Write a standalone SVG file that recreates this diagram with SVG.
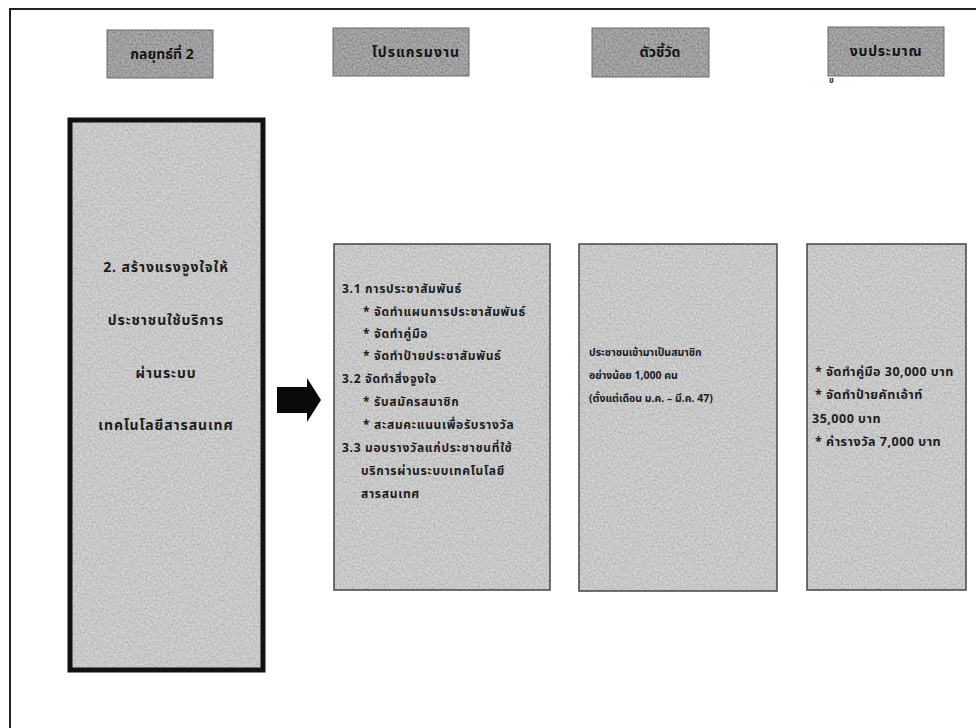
<svg xmlns="http://www.w3.org/2000/svg" width="976" height="728" viewBox="0 0 976 728">
  <defs>
    <!-- soft grey speckle laid over panel fills -->
    <filter id="grain" x="0" y="0" width="100%" height="100%">
      <feTurbulence type="fractalNoise" baseFrequency="0.5" numOctaves="2" seed="7" result="n"/>
      <feColorMatrix in="n" type="matrix" values="1.3 0 0 0 -0.1  1.3 0 0 0 -0.1  1.3 0 0 0 -0.1  0 0 0 0 0.3" result="g"/>
      <feComposite in="g" in2="SourceGraphic" operator="in" result="gm"/>
      <feMerge><feMergeNode in="SourceGraphic"/><feMergeNode in="gm"/></feMerge>
    </filter>
    <style>
      .hdr-f { fill: #8a8a8a; filter: url(#grain); }
      .hdr-b { fill: none; stroke: #6a6a6a; stroke-width: 1; }
      .hdr-t { font-family: "Noto Sans Thai", "Loma", "Garuda", "DejaVu Sans", sans-serif; font-size: 14px; font-weight: bold; fill: #151515; text-anchor: middle; }
      .pan-f { fill: #c9c9c9; filter: url(#grain); }
      .pan-b { fill: none; stroke: #444; stroke-width: 1.5; }
      .main-b { fill: none; stroke: #111; stroke-width: 5; }
      .th { font-family: "Noto Sans Thai", "Loma", "Garuda", "DejaVu Sans", sans-serif; font-weight: bold; fill: #1c1c1c; }
      .t2 { font-size: 12px; letter-spacing: 0.7px; }
      .t3 { font-size: 10.5px; }
      .t4 { font-size: 12.5px; letter-spacing: 0.5px; }
      .tm { font-size: 14px; letter-spacing: 0.9px; text-anchor: middle; }
    </style>
  </defs>

  <rect width="976" height="728" fill="#ffffff"/>

  <!-- page frame -->
  <path d="M10 728 V9 H976" fill="none" stroke="#222" stroke-width="2"/>

  <!-- column headers -->
  <g id="hdr-strategy">
    <rect class="hdr-f" x="107" y="30" width="106" height="48"/>
    <rect class="hdr-b" x="107" y="30" width="106" height="48"/>
    <text class="hdr-t" x="162" y="59">กลยุทธ์ที่ 2</text>
  </g>
  <g id="hdr-program">
    <rect class="hdr-f" x="333" y="28" width="136" height="48"/>
    <rect class="hdr-b" x="333" y="28" width="136" height="48"/>
    <text class="hdr-t" x="416" y="57" letter-spacing="1">โปรแกรมงาน</text>
  </g>
  <g id="hdr-indicator">
    <rect class="hdr-f" x="592" y="28" width="117" height="49"/>
    <rect class="hdr-b" x="592" y="28" width="117" height="49"/>
    <text class="hdr-t" x="660" y="57">ตัวชี้วัด</text>
  </g>
  <g id="hdr-budget">
    <rect class="hdr-f" x="828" y="27" width="116" height="49"/>
    <rect class="hdr-b" x="828" y="27" width="116" height="49"/>
    <text class="hdr-t" x="886" y="56" letter-spacing="0.8">งบประมาณ</text>
    <text class="th" x="829" y="83" font-size="8">ข</text>
  </g>

  <!-- strategy box -->
  <g id="strategy">
    <rect class="pan-f" x="70" y="120" width="193" height="550"/>
    <rect class="main-b" x="70" y="120" width="193" height="550"/>
    <text class="th tm" x="166" y="272">2. สร้างแรงจูงใจให้</text>
    <text class="th tm" x="166" y="325">ประชาชนใช้บริการ</text>
    <text class="th tm" x="166" y="378">ผ่านระบบ</text>
    <text class="th tm" x="166" y="430">เทคโนโลยีสารสนเทศ</text>
  </g>

  <!-- connector -->
  <g id="connectors">
    <path d="M277 387 H307 V378 L321 400 L307 422 V413 H277 Z" fill="#0a0a0a"/>
  </g>

  <!-- program box -->
  <g id="program">
    <rect class="pan-f" x="334" y="244" width="216" height="346"/>
    <rect class="pan-b" x="334" y="244" width="216" height="346"/>
    <text class="th t2" x="342" y="293">3.1 การประชาสัมพันธ์</text>
    <text class="th t2" x="363" y="316">* จัดทำแผนการประชาสัมพันธ์</text>
    <text class="th t2" x="363" y="338">* จัดทำคู่มือ</text>
    <text class="th t2" x="363" y="360">* จัดทำป้ายประชาสัมพันธ์</text>
    <text class="th t2" x="342" y="383">3.2 จัดทำสิ่งจูงใจ</text>
    <text class="th t2" x="363" y="406">* รับสมัครสมาชิก</text>
    <text class="th t2" x="363" y="429">* สะสมคะแนนเพื่อรับรางวัล</text>
    <text class="th t2" x="342" y="452">3.3 มอบรางวัลแก่ประชาชนที่ใช้</text>
    <text class="th t2" x="361" y="475">บริการผ่านระบบเทคโนโลยี</text>
    <text class="th t2" x="361" y="498">สารสนเทศ</text>
  </g>

  <!-- indicator box -->
  <g id="indicator">
    <rect class="pan-f" x="579" y="244" width="198" height="347"/>
    <rect class="pan-b" x="579" y="244" width="198" height="347"/>
    <text class="th t3" x="589" y="356">ประชาชนเข้ามาเป็นสมาชิก</text>
    <text class="th t3" x="589" y="379">อย่างน้อย 1,000 คน</text>
    <text class="th t3" x="589" y="402">(ตั้งแต่เดือน ม.ค. – มี.ค. 47)</text>
  </g>

  <!-- budget box -->
  <g id="budget">
    <rect class="pan-f" x="807" y="244" width="159" height="346"/>
    <rect class="pan-b" x="807" y="244" width="159" height="346"/>
    <text class="th t4" x="815" y="376">* จัดทำคู่มือ 30,000 บาท</text>
    <text class="th t4" x="815" y="399">* จัดทำป้ายคัทเอ้าท์</text>
    <text class="th t4" x="812" y="423">35,000 บาท</text>
    <text class="th t4" x="815" y="446">* ค่ารางวัล 7,000 บาท</text>
  </g>
</svg>
